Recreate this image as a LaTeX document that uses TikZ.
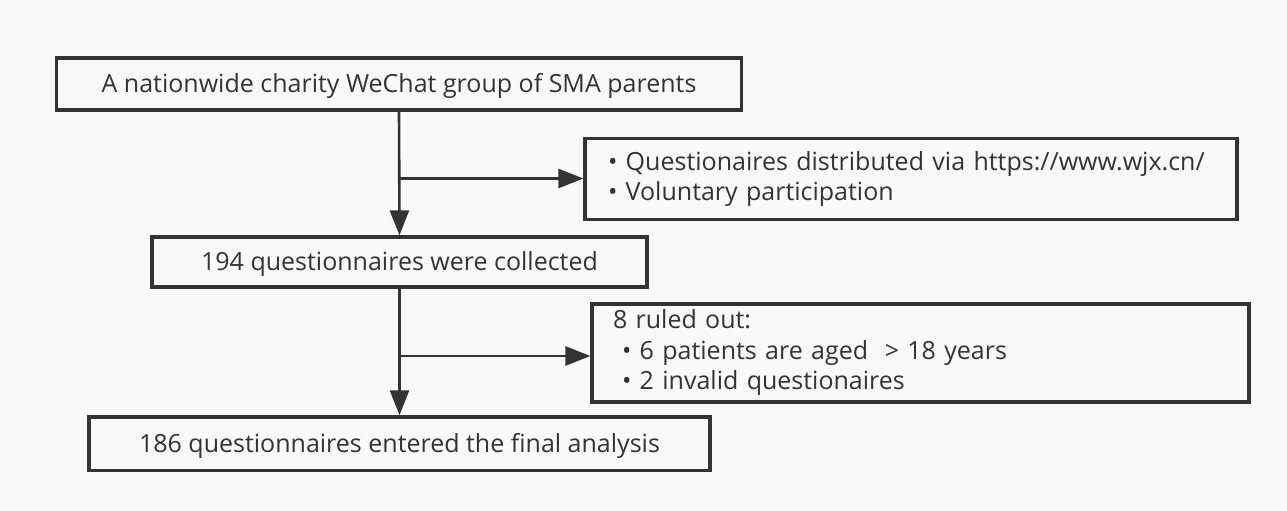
\documentclass[tikz,border=0pt]{standalone}
\usepackage{fontspec}
\setmainfont{Open Sans}
\usetikzlibrary{arrows.meta}
\definecolor{ink}{HTML}{333333}
\definecolor{bg}{HTML}{F9F9F9}
\begin{document}
\begin{tikzpicture}[x=1pt,y=-1pt,
  box/.style={draw=ink, line width=3.3pt, text=ink, inner sep=0pt, font=\fontsize{25}{30.5}\selectfont},
  sbox/.style={box, text height=17.8pt, text depth=0pt},
  lbox/.style={box, align=left, inner xsep=#1},
  conn/.style={draw=ink, line width=2.6pt, -{Triangle[length=25pt,width=19pt]}}]
\fill[bg] (0,0) rectangle (1287,511);
\useasboundingbox (0,0) rectangle (1287,511);
\node[sbox, minimum width=685pt, minimum height=52pt] (n1) at (399,84) {A nationwide charity WeChat group of SMA parents};
\node[lbox=23pt, minimum width=652pt, minimum height=81pt, text width=606pt] (n2) at (911,179) {\raisebox{-2pt}{\parbox{606pt}{• Questionaires distributed via https://www.wjx.cn/\\• Voluntary participation}}};
\node[sbox, minimum width=495pt, minimum height=50pt] (n3) at (399.5,262) {194 questionnaires were collected};
\node[lbox=21pt, minimum width=657pt, minimum height=98pt, text width=615pt] (n4) at (920.5,353) {\raisebox{-2pt}{\parbox{615pt}{8 ruled out:\\\hspace*{9pt}• 6 patients are aged~~> 18 years\\\hspace*{9pt}• 2 invalid questionaires}}};
\node[sbox, minimum width=621pt, minimum height=53.5pt] (n5) at (399.5,443.7) {186 questionnaires entered the final analysis};
\coordinate (j1) at (399,178.5);
\coordinate (j2) at (399,356);
\draw[conn] (n1.south) -- (n3.north);
\draw[conn] (j1) -- (j1 -| n2.west);
\draw[conn] (n3.south) -- (n5.north);
\draw[conn] (j2) -- (j2 -| n4.west);
\end{tikzpicture}
\end{document}
